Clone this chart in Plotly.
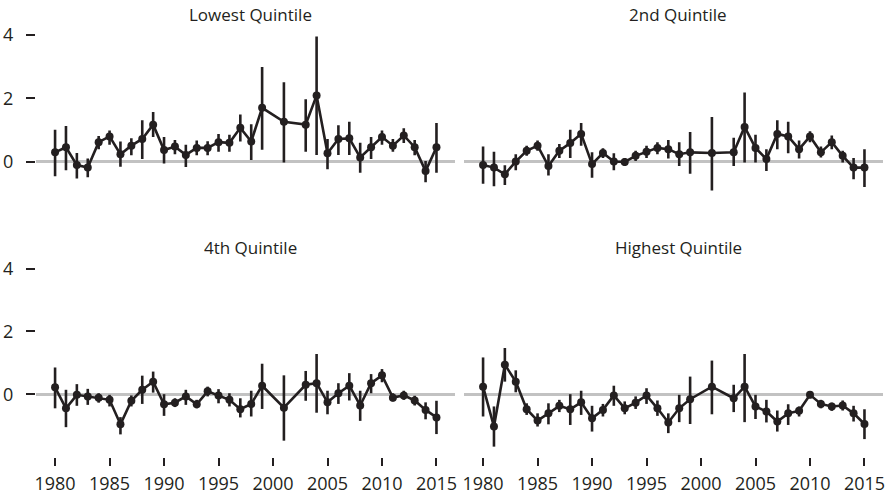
import plotly.graph_objects as go

years = [1980, 1981, 1982, 1983, 1984, 1985, 1986, 1987, 1988, 1989, 1990,
         1991, 1992, 1993, 1994, 1995, 1996, 1997, 1998, 1999, 2001, 2003,
         2004, 2005, 2006, 2007, 2008, 2009, 2010, 2011, 2012, 2013, 2014, 2015]

panel_titles = ["Lowest Quintile", "2nd Quintile", "4th Quintile", "Highest Quintile"]

lowest_est = [0.30, 0.46, -0.10, -0.18, 0.62, 0.80, 0.24, 0.51, 0.72, 1.17, 0.37,
              0.48, 0.22, 0.44, 0.44, 0.62, 0.60, 1.07, 0.64, 1.70, 1.26, 1.17,
              2.09, 0.27, 0.72, 0.74, 0.14, 0.46, 0.78, 0.51, 0.83, 0.46, -0.29, 0.46]
lowest_hi = [1.01, 1.13, 0.28, 0.11, 0.81, 0.99, 0.64, 0.74, 1.31, 1.57, 0.78,
             0.69, 0.54, 0.67, 0.65, 0.88, 0.85, 1.49, 1.18, 2.98, 2.50, 1.97,
             3.94, 0.72, 1.15, 1.26, 0.60, 0.78, 0.99, 0.72, 1.06, 0.69, 0.03, 1.22]
lowest_lo = [-0.45, -0.26, -0.52, -0.48, 0.40, 0.54, -0.15, 0.21, 0.09, 0.78, -0.05,
             0.24, -0.16, 0.21, 0.21, 0.32, 0.32, 0.64, 0.06, 0.38, -0.02, 0.32,
             0.22, -0.23, 0.22, 0.22, -0.34, 0.09, 0.54, 0.32, 0.59, 0.21, -0.64, -0.34]

second_est = [-0.10, -0.18, -0.39, 0.01, 0.35, 0.51, -0.13, 0.35, 0.59, 0.88, -0.07,
              0.28, 0.01, 0.00, 0.19, 0.32, 0.44, 0.40, 0.24, 0.30, 0.28, 0.30,
              1.10, 0.44, 0.09, 0.88, 0.80, 0.40, 0.80, 0.30, 0.62, 0.19, -0.18, -0.18]
second_hi = [0.48, 0.32, -0.11, 0.24, 0.51, 0.67, 0.24, 0.56, 1.01, 1.22, 0.30,
             0.43, 0.27, 0.12, 0.35, 0.51, 0.62, 0.69, 0.62, 0.94, 1.41, 0.76,
             2.18, 0.85, 0.40, 1.31, 1.26, 0.67, 0.96, 0.48, 0.83, 0.35, 0.12, 0.40]
second_lo = [-0.69, -0.77, -0.73, -0.26, 0.19, 0.35, -0.43, 0.12, 0.12, 0.51, -0.50,
             0.12, -0.26, -0.13, 0.03, 0.12, 0.24, 0.11, -0.13, -0.37, -0.90, -0.13,
             -0.02, -0.02, -0.29, 0.40, 0.27, 0.11, 0.62, 0.14, 0.40, -0.02, -0.55, -0.79]

fourth_est = [0.22, -0.45, -0.02, -0.07, -0.11, -0.18, -0.96, -0.21, 0.14, 0.40, -0.32,
              -0.27, -0.07, -0.32, 0.09, -0.04, -0.18, -0.48, -0.31, 0.27, -0.43, 0.30,
              0.35, -0.26, 0.03, 0.27, -0.36, 0.35, 0.60, -0.11, -0.04, -0.20, -0.50, -0.74]
fourth_hi = [0.85, 0.14, 0.32, 0.17, 0.03, -0.02, -0.73, -0.04, 0.59, 0.72, 0.00,
             -0.13, 0.14, -0.18, 0.24, 0.16, 0.03, -0.13, 0.11, 0.97, 0.60, 0.74,
             1.28, 0.11, 0.35, 0.67, 0.11, 0.64, 0.80, 0.03, 0.11, -0.05, -0.26, -0.21]
fourth_lo = [-0.45, -1.05, -0.37, -0.34, -0.27, -0.39, -1.28, -0.39, -0.31, 0.05, -0.69,
             -0.41, -0.34, -0.45, -0.07, -0.29, -0.39, -0.74, -0.71, -0.47, -1.48, -0.21,
             -0.59, -0.64, -0.31, -0.20, -0.85, 0.03, 0.38, -0.23, -0.18, -0.36, -0.80, -1.27]

highest_est = [0.24, -1.03, 0.94, 0.40, -0.48, -0.84, -0.61, -0.37, -0.48, -0.26, -0.77,
               -0.50, -0.04, -0.45, -0.27, -0.04, -0.45, -0.90, -0.45, -0.16, 0.24, -0.13,
               0.24, -0.39, -0.55, -0.87, -0.61, -0.53, -0.02, -0.31, -0.39, -0.36, -0.61, -0.95]
highest_hi = [1.17, -0.39, 1.47, 0.76, -0.29, -0.61, -0.29, -0.18, 0.00, 0.11, -0.37,
              -0.31, 0.27, -0.23, -0.07, 0.19, -0.20, -0.61, -0.02, 0.56, 1.07, 0.30,
              1.28, -0.02, -0.18, -0.52, -0.32, -0.39, 0.06, -0.18, -0.27, -0.20, -0.37, -0.48]
highest_lo = [-0.71, -1.67, 0.40, 0.06, -0.66, -1.03, -0.96, -0.57, -0.98, -0.66, -1.19,
              -0.71, -0.37, -0.64, -0.47, -0.31, -0.69, -1.24, -0.89, -0.95, -0.64, -0.57,
              -0.89, -0.79, -0.90, -1.19, -0.98, -0.71, -0.13, -0.45, -0.53, -0.52, -0.87, -1.43]

x_ticks = [1980, 1985, 1990, 1995, 2000, 2005, 2010, 2015]
y_ticks = [0, 2, 4]

series = [(lowest_est, lowest_hi, lowest_lo),
          (second_est, second_hi, second_lo),
          (fourth_est, fourth_hi, fourth_lo),
          (highest_est, highest_hi, highest_lo)]

INK = "#231f20"
FONT = "Open Sans"

W, H = 890, 495
ML, MR, MT, MB = 36, 7, 21, 38
PW = W - ML - MR
PH = H - MT - MB

def px_x(a, b):
    return [(a - ML) / PW, (b - ML) / PW]

def px_y(top, bottom):
    return [(H - MB - bottom) / PH, (H - MB - top) / PH]

x_domains = [px_x(36, 455), px_x(464, 883)]
y_domains = [px_y(21.9, 225.5), px_y(256, 457)]

fig = go.Figure()
layout = {}
for i, (est, hi, lo) in enumerate(series):
    row, col = divmod(i, 2)
    n = i + 1
    xa = "x" if n == 1 else f"x{n}"
    ya = "y" if n == 1 else f"y{n}"
    plus = [h - e for h, e in zip(hi, est)]
    minus = [e - l for e, l in zip(est, lo)]
    fig.add_trace(go.Scatter(
        x=years, y=est, mode="lines+markers",
        line=dict(color=INK, width=2.6),
        marker=dict(color=INK, size=8),
        error_y=dict(type="data", array=plus, arrayminus=minus,
                     color=INK, thickness=2.6, width=0),
        xaxis=xa, yaxis=ya, showlegend=False, cliponaxis=False,
        hoverinfo="skip",
    ))
    xkey = "xaxis" if n == 1 else f"xaxis{n}"
    ykey = "yaxis" if n == 1 else f"yaxis{n}"
    layout[xkey] = dict(
        domain=[max(0, min(1, v)) for v in x_domains[col]], anchor=ya,
        range=[1978.25, 2016.7], automargin=False,
        showgrid=False, zeroline=False, showline=False,
        tickvals=x_ticks if row == 1 else [],
        ticks="outside" if row == 1 else "", ticklen=8, tickwidth=2, tickcolor=INK,
        showticklabels=(row == 1), ticklabelstandoff=2,
        tickfont=dict(family=FONT, size=18, color=INK),
    )
    layout[ykey] = dict(
        domain=[max(0, min(1, v)) for v in y_domains[row]], anchor=xa,
        range=[-2, 4.4], automargin=False,
        showgrid=False, showline=False,
        zeroline=True, zerolinecolor="#c2c2c2", zerolinewidth=2.5,
        tickvals=y_ticks if col == 0 else [],
        ticks="outside" if col == 0 else "", ticklen=9, tickwidth=2, tickcolor=INK,
        showticklabels=(col == 0), ticklabelstandoff=9,
        tickfont=dict(family=FONT, size=18, color=INK),
    )

annotations = []
title_y = [15, 247]
for i, t in enumerate(panel_titles):
    row, col = divmod(i, 2)
    d = x_domains[col]
    annotations.append(dict(
        text=t, xref="paper", yref="paper",
        x=(d[0] + d[1]) / 2 + 4.5 / PW, y=(H - MB - title_y[row]) / PH,
        xanchor="center", yanchor="middle", showarrow=False,
        font=dict(family=FONT, size=17, color=INK),
    ))

fig.update_layout(
    width=W, height=H,
    margin=dict(l=ML, r=MR, t=MT, b=MB, pad=0),
    paper_bgcolor="white", plot_bgcolor="white",
    annotations=annotations,
    hovermode=False,
    **layout,
)

fig.write_html("out.html", config={"displayModeBar": False},
               post_script="document.body.style.margin='0';")
